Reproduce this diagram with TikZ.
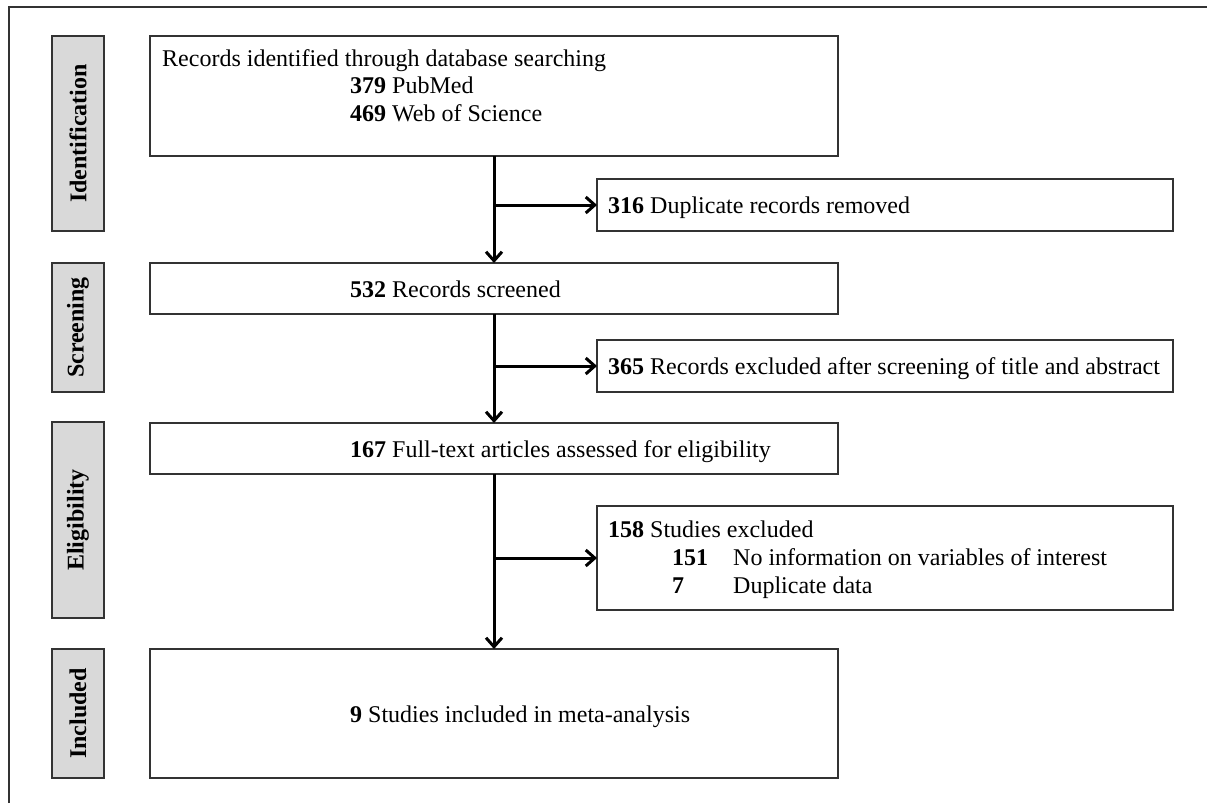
\documentclass[tikz,border=0pt]{standalone}
\usepackage{fontspec}
\setmainfont{Liberation Serif}
\usetikzlibrary{arrows.meta}
\definecolor{sidegray}{HTML}{D9D9D9}
\definecolor{edge}{HTML}{333333}
\begin{document}
\begin{tikzpicture}[x=1pt,y=-1pt,
  box/.style={draw=edge, line width=1.2pt, anchor=north west, inner sep=0pt, outer sep=0pt},
  side/.style={box, fill=sidegray},
  txt/.style={anchor=base west, inner sep=0pt, font=\fontsize{24pt}{27.6pt}\selectfont},
  sidetxt/.style={rotate=90, inner sep=0pt, font=\fontsize{24pt}{27.6pt}\selectfont\bfseries},
  arr/.style={line width=3pt, -{Straight Barb[length=9pt,width=16pt]}},
  frame/.style={draw=edge, line width=2pt}]
\useasboundingbox (0,0) rectangle (1207,803);
\coordinate (fa) at (9,803);
\coordinate (fb) at (9,7);
\coordinate (fc) at (1207,7);
\draw[frame] (fa) -- (fb) -- (fc);
% side labels
\node[side, minimum width=52, minimum height=195] (s1) at (52,36) {};
\node[sidetxt] (l1) at (s1.center) {Identification};
\node[side, minimum width=52, minimum height=129] (s2) at (52,263) {};
\node[sidetxt] (l2) at (s2.center) {Screening};
\node[side, minimum width=52, minimum height=196] (s3) at (52,422) {};
\node[sidetxt] (l3) at (s3.center) {Eligibility};
\node[side, minimum width=52, minimum height=129] (s4) at (52,649) {};
\node[sidetxt] (l4) at (s4.center) {Included};
% main boxes
\node[box, minimum width=688, minimum height=120] (b1) at (150,36) {};
\node[box, minimum width=576, minimum height=52] (b2) at (597,179) {};
\node[box, minimum width=688, minimum height=51] (b3) at (150,263) {};
\node[box, minimum width=576, minimum height=52] (b4) at (597,340) {};
\node[box, minimum width=688, minimum height=51] (b5) at (150,423) {};
\node[box, minimum width=576, minimum height=104] (b6) at (597,506) {};
\node[box, minimum width=688, minimum height=129] (b7) at (150,649) {};
% texts
\node[txt] (t1a) at (162,66) {Records identified through database searching};
\node[txt] (t1b) at (350,93) {\textbf{379} PubMed};
\node[txt] (t1c) at (350,121) {\textbf{469} Web of Science};
\node[txt] (t2) at (608,213) {\textbf{316} Duplicate records removed};
\node[txt] (t3) at (350,297) {\textbf{532} Records screened};
\node[txt] (t4) at (608,374) {\textbf{365} Records excluded after screening of title and abstract};
\node[txt] (t5) at (350,457) {\textbf{167} Full-text articles assessed for eligibility};
\node[txt] (t6a) at (608,537) {\textbf{158} Studies excluded};
\node[txt] (t6b) at (672,565) {\textbf{151}};
\node[txt] (t6c) at (733,565) {No information on variables of interest};
\node[txt] (t6d) at (672,593) {\textbf{7}};
\node[txt] (t6e) at (733,593) {Duplicate data};
\node[txt] (t7) at (350,722) {\textbf{9} Studies included in meta-analysis};
% arrows
\draw[arr] (b1.south) -- (b3.north);
\draw[arr] (b2.west -| b1.south) -- (b2.west);
\draw[arr] (b3.south) -- (b5.north);
\draw[arr] (b4.west -| b3.south) -- (b4.west);
\draw[arr] (b5.south) -- (b7.north);
\draw[arr] (b6.west -| b5.south) -- (b6.west);
\end{tikzpicture}
\end{document}
